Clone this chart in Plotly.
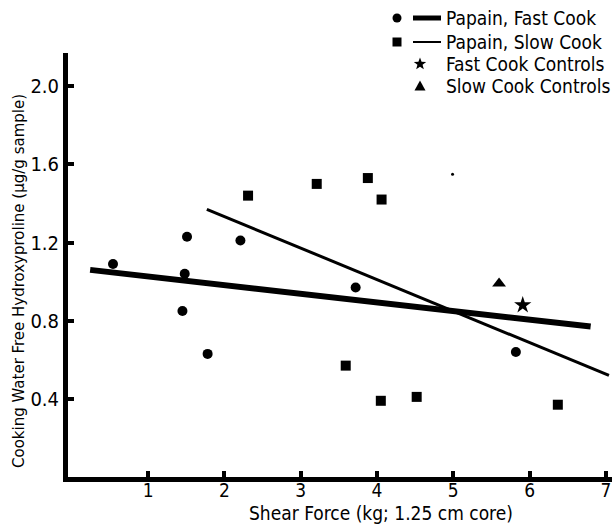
import math
import plotly.graph_objects as go

# ---- data ----
fast_x = [0.54, 1.51, 1.48, 1.45, 1.78, 2.21, 3.72, 5.82]
fast_y = [1.09, 1.23, 1.04, 0.85, 0.63, 1.21, 0.97, 0.64]
slow_x = [2.31, 3.21, 3.88, 4.06, 3.59, 4.05, 4.52, 6.37]
slow_y = [1.44, 1.50, 1.53, 1.42, 0.57, 0.39, 0.41, 0.37]
fast_ctrl_x = [5.91]
fast_ctrl_y = [0.88]
slow_ctrl_x = [5.60]
slow_ctrl_y = [0.99]
stray_x = [4.99]
stray_y = [1.55]
fast_fit_x = [0.24, 6.80]
fast_fit_y = [1.06, 0.77]
slow_fit_x = [1.77, 7.04]
slow_fit_y = [1.37, 0.52]
x_ticks = [1, 2, 3, 4, 5, 6, 7]
y_ticks = [0.4, 0.8, 1.2, 1.6, 2.0]
y_tick_text = ["0.4", "0.8", "1.2", "1.6", "2.0"]
legend_labels = ["Papain, Fast Cook", "Papain, Slow Cook", "Fast Cook Controls", "Slow Cook Controls"]

FONT = "DejaVu Sans Condensed, Liberation Sans Narrow, DejaVu Sans, sans-serif"
W, H = 614, 525
L, R, T, B = 68, 2, 53, 48
PW, PH = W - L - R, H - T - B


def px(x):
    return (x - L) / PW


def py(y):
    return (H - B - y) / PH


fig = go.Figure()
fig.add_trace(go.Scatter(x=fast_fit_x, y=fast_fit_y, mode="lines",
                         line=dict(color="black", width=6), showlegend=False))
fig.add_trace(go.Scatter(x=slow_fit_x, y=slow_fit_y, mode="lines",
                         line=dict(color="black", width=3), showlegend=False))
fig.add_trace(go.Scatter(x=fast_x, y=fast_y, mode="markers",
                         marker=dict(symbol="circle", size=10, color="black"), showlegend=False))
fig.add_trace(go.Scatter(x=slow_x, y=slow_y, mode="markers",
                         marker=dict(symbol="square", size=10, color="black"), showlegend=False))
fig.add_trace(go.Scatter(x=fast_ctrl_x, y=fast_ctrl_y, mode="markers",
                         marker=dict(symbol="star", size=13, color="black"), showlegend=False))
fig.add_trace(go.Scatter(x=slow_ctrl_x, y=slow_ctrl_y, mode="markers",
                         marker=dict(symbol="triangle-up", size=12, color="black"), showlegend=False))
fig.add_trace(go.Scatter(x=stray_x, y=stray_y, mode="markers",
                         marker=dict(symbol="circle", size=3, color="black"), showlegend=False))

# ---- hand-drawn style legend (paper coords, pixel-sized shapes) ----
leg_y = [18, 42, 64, 86]
shapes = []
shapes.append(dict(type="line", xref="paper", yref="paper", x0=px(413), x1=px(441),
                   y0=py(leg_y[0]), y1=py(leg_y[0]), line=dict(color="black", width=5)))
shapes.append(dict(type="line", xref="paper", yref="paper", x0=px(413), x1=px(441),
                   y0=py(leg_y[1]), y1=py(leg_y[1]), line=dict(color="black", width=2)))
shapes.append(dict(type="circle", xref="paper", yref="paper", xsizemode="pixel", ysizemode="pixel",
                   xanchor=px(397), yanchor=py(leg_y[0]), x0=-4.5, x1=4.5, y0=-4.5, y1=4.5,
                   fillcolor="black", line=dict(width=0)))
shapes.append(dict(type="rect", xref="paper", yref="paper", xsizemode="pixel", ysizemode="pixel",
                   xanchor=px(397), yanchor=py(leg_y[1]), x0=-4.5, x1=4.5, y0=-4.5, y1=4.5,
                   fillcolor="black", line=dict(width=0)))
pts = []
for i in range(10):
    r = 6.5 if i % 2 == 0 else 2.7
    a = math.pi / 2 + i * math.pi / 5
    pts.append((r * math.cos(a), r * math.sin(a)))
star_path = "M " + " L ".join(f"{x:.2f},{y:.2f}" for x, y in pts) + " Z"
shapes.append(dict(type="path", xref="paper", yref="paper", xsizemode="pixel", ysizemode="pixel",
                   xanchor=px(420), yanchor=py(leg_y[2]), path=star_path,
                   fillcolor="black", line=dict(width=0)))
shapes.append(dict(type="path", xref="paper", yref="paper", xsizemode="pixel", ysizemode="pixel",
                   xanchor=px(420), yanchor=py(leg_y[3]), path="M -5.5,-4.5 L 5.5,-4.5 L 0,5.5 Z",
                   fillcolor="black", line=dict(width=0)))

annotations = []
for lab, yy in zip(legend_labels, leg_y):
    annotations.append(dict(x=px(444), y=py(yy), xref="paper", yref="paper", text=lab,
                            showarrow=False, xanchor="left", yanchor="middle",
                            font=dict(family=FONT, size=19, color="black")))
annotations.append(dict(x=px(381), y=py(513), xref="paper", yref="paper",
                        text="Shear Force (kg; 1.25 cm core)", showarrow=False,
                        xanchor="center", yanchor="middle",
                        font=dict(family=FONT, size=19, color="black")))
annotations.append(dict(x=px(18), y=py(281), xref="paper", yref="paper",
                        text="Cooking Water Free Hydroxyproline (μg/g sample)", showarrow=False,
                        textangle=-90, xanchor="center", yanchor="middle",
                        font=dict(family=FONT, size=16.7, color="black")))

fig.update_layout(
    width=W, height=H,
    margin=dict(l=L, r=R, t=T, b=B),
    paper_bgcolor="white", plot_bgcolor="white",
    showlegend=False,
    font=dict(family=FONT, color="black"),
    shapes=shapes,
    annotations=annotations,
    xaxis=dict(range=[-0.05, 7.08], tickvals=x_ticks, ticks="inside", ticklen=6, tickwidth=4,
               tickcolor="black", showline=True, linewidth=5, linecolor="black",
               showgrid=False, zeroline=False, tickfont=dict(size=19), ticklabelstandoff=-8),
    yaxis=dict(range=[0, 2.17], tickvals=y_ticks, ticktext=y_tick_text, ticks="inside", ticklen=6,
               tickwidth=4, tickcolor="black", showline=True, linewidth=5, linecolor="black",
               showgrid=False, zeroline=False, tickfont=dict(size=20)),
)

fig.write_html("out.html")
